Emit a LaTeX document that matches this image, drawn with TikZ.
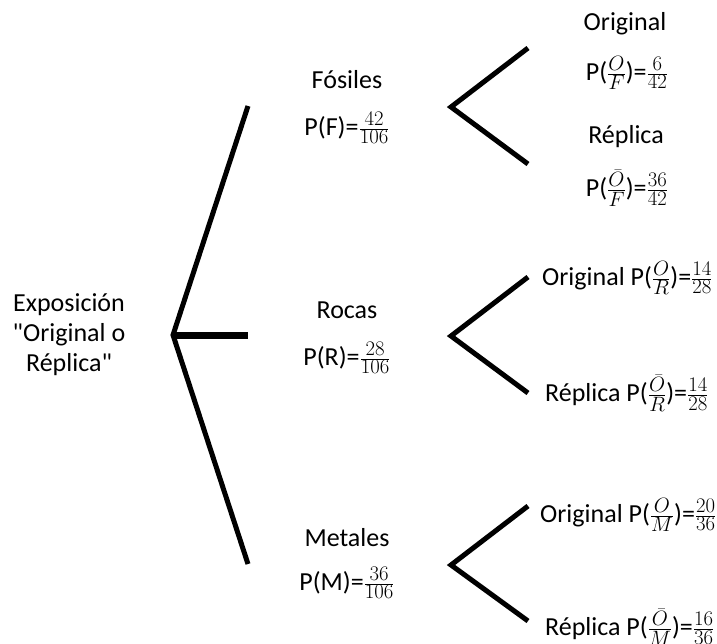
\documentclass[tikz,border=0pt]{standalone}
\usepackage{amsmath}
\usepackage{fontspec}
\setmainfont{Carlito}[Ligatures=TeXOff]
\usetikzlibrary{positioning}

\tikzset{
  br/.style={draw=black,line width=5pt,line join=miter,line cap=butt},
  lbl/.style={font=\fontsize{26}{30}\selectfont,align=center,inner sep=0pt},
}
% fraccion con numeros algo mas pequenos que el texto
\newcommand{\fsz}[1]{\mbox{\fontsize{22}{22}\selectfont$#1$}}
\newcommand{\fr}[2]{$\genfrac{}{}{}{}{\fsz{#1}}{\fsz{#2}}$}

\begin{document}
\begin{tikzpicture}[x=1pt,y=-1pt]
  \useasboundingbox (0,0) rectangle (717,644);

  % raiz
  \node[lbl] (expo) at (69,335) {Exposición\\"Original o\\Réplica"};
  \coordinate (r0) at (173,335);
  \coordinate (rF) at (248,106);
  \coordinate (rR) at (248,335);
  \coordinate (rM) at (248,564);
  \draw[br] (rF) -- (r0) -- (rM);
  \draw[br,line width=7pt] (r0) -- (rR);

  % fosiles
  \node[lbl] (fos) at (347,80) {Fósiles};
  \node[lbl] (pfos) at (347,128) {P(F)=\fr{42}{106}};
  \coordinate (f0) at (451,107);
  \coordinate (fO) at (528,48);
  \coordinate (fR) at (528,164);
  \draw[br] (fO) -- (f0) -- (fR);
  \node[lbl] (fori) at (625,24) {Original};
  \node[lbl] (pfori) at (627,73) {P(\fr{O}{F})=\fr{6}{42}};
  \node[lbl] (frep) at (626,137) {Réplica};
  \node[lbl] (pfrep) at (627,188) {P(\fr{\bar{O}}{F})=\fr{36}{42}};

  % rocas
  \node[lbl] (roc) at (347,310) {Rocas};
  \node[lbl] (proc) at (347,358) {P(R)=\fr{28}{106}};
  \coordinate (c0) at (451,336);
  \coordinate (cO) at (528,277);
  \coordinate (cR) at (528,393);
  \draw[br] (cO) -- (c0) -- (cR);
  \node[lbl,anchor=west] (cori) at (542,278) {Original P(\fr{O}{R})=\fr{14}{28}};
  \node[lbl,anchor=west] (crep) at (545,393) {Réplica P(\fr{\bar{O}}{R})=\fr{14}{28}};

  % metales
  \node[lbl] (met) at (347,538) {Metales};
  \node[lbl] (pmet) at (347,583) {P(M)=\fr{36}{106}};
  \coordinate (m0) at (451,565);
  \coordinate (mO) at (528,506);
  \coordinate (mR) at (528,621);
  \draw[br] (mO) -- (m0) -- (mR);
  \node[lbl,anchor=west] (mori) at (540,515) {Original P(\fr{O}{M})=\fr{20}{36}};
  \node[lbl,anchor=west] (mrep) at (545,627) {Réplica P(\fr{\bar{O}}{M})=\fr{16}{36}};
\end{tikzpicture}
\end{document}
